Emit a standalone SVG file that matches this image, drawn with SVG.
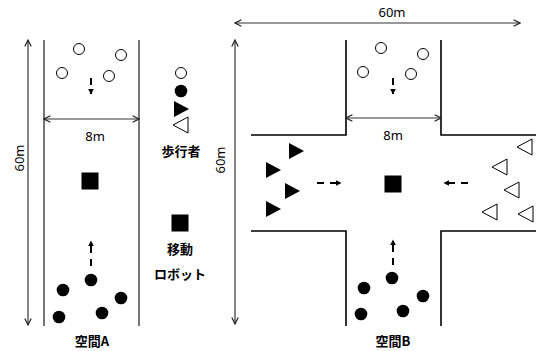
<svg xmlns="http://www.w3.org/2000/svg" width="536" height="351" viewBox="0 0 536 351">
<defs>
<marker id="open" viewBox="0 0 10 10" refX="9" refY="5" markerWidth="8" markerHeight="8" markerUnits="userSpaceOnUse" orient="auto-start-reverse">
<path d="M1,1 L9,5 L1,9" fill="none" stroke="#222" stroke-width="1.5"/>
</marker>
<marker id="solid" viewBox="0 0 10 10" refX="9" refY="5" markerWidth="6" markerHeight="6" markerUnits="userSpaceOnUse" orient="auto">
<path d="M0,0 L10,5 L0,10 z" fill="#000"/>
</marker>
<circle id="oc" r="5.5" fill="#fff" stroke="#000" stroke-width="1"/>
<circle id="fc" r="6.3" fill="#000"/>
<path id="ft" d="M-7,-8 L8,0 L-7,8 z" fill="#000"/>
<path id="ot" d="M7,-8 L-8,0 L7,8 z" fill="#fff" stroke="#000" stroke-width="1"/>
<rect id="sq" x="-8.5" y="-8.5" width="17" height="17" fill="#000"/>
</defs>
<style>
.dim{stroke:#333;stroke-width:1.2;fill:none;marker-start:url(#open);marker-end:url(#open)}
.wallA{stroke:#555;stroke-width:1.6;fill:none}
.wallB{stroke:#000;stroke-width:1.6;fill:none}
.dash{stroke:#000;stroke-width:2;fill:none;stroke-dasharray:7 6;marker-end:url(#solid)}
text{font-family:"Noto Sans CJK JP","Liberation Sans",sans-serif;fill:#000}
.lbl{font-size:13px;font-family:"Noto Sans","Liberation Sans",sans-serif}
.jp{font-size:13px;font-weight:bold}
</style>

<g id="spaceA">
<line class="wallA" x1="44" y1="40" x2="44" y2="326"/>
<line class="wallA" x1="139" y1="40" x2="139" y2="326"/>
</g>
<g id="spaceB">
<path class="wallB" d="M251,135 H346 V40"/>
<path class="wallB" d="M441,40 V135 H536"/>
<path class="wallB" d="M251,231 H346 V326"/>
<path class="wallB" d="M441,326 V231 H536"/>
</g>

<g id="connectors">
<line class="dim" x1="28" y1="40" x2="28" y2="325"/>
<line class="dim" x1="44" y1="119" x2="139" y2="119"/>
<line class="dim" x1="235" y1="23" x2="520" y2="23"/>
<line class="dim" x1="235" y1="40" x2="235" y2="324"/>
<line class="dim" x1="346" y1="118" x2="441" y2="118"/>
<path class="dash" d="M91,78 V94"/>
<path class="dash" d="M91,266 V241"/>
<path class="dash" d="M393,78 V94"/>
<path class="dash" d="M393,265 V240"/>
<path class="dash" d="M317,183 H341"/>
<path class="dash" d="M468,183 H444"/>
</g>

<g id="labels">
<text class="lbl" x="95" y="141" text-anchor="middle">8m</text>
<text class="lbl" x="393" y="140" text-anchor="middle">8m</text>
<text class="lbl" x="392" y="17" text-anchor="middle">60m</text>
<text class="lbl" transform="translate(24,158) rotate(-90)" text-anchor="middle">60m</text>
<text class="lbl" transform="translate(225,160) rotate(-90)" text-anchor="middle">60m</text>
<text class="jp" x="92" y="346" text-anchor="middle">空間A</text>
<text class="jp" x="393" y="346" text-anchor="middle">空間B</text>
</g>

<g id="pedestriansA">
<use href="#oc" x="79" y="49"/>
<use href="#oc" x="121" y="55"/>
<use href="#oc" x="62" y="73"/>
<use href="#oc" x="109" y="76"/>
<use href="#fc" x="91" y="280"/>
<use href="#fc" x="63" y="290"/>
<use href="#fc" x="121" y="298"/>
<use href="#fc" x="59" y="317"/>
<use href="#fc" x="102" y="313"/>
</g>
<g id="robotA"><use href="#sq" x="90" y="181"/></g>

<g id="legend">
<use href="#oc" x="181" y="73"/>
<use href="#fc" x="181" y="91"/>
<use href="#ft" x="181" y="109"/>
<use href="#ot" x="181" y="125"/>
<text class="jp" x="181" y="156" text-anchor="middle">歩行者</text>
<use href="#sq" x="180" y="223"/>
<text class="jp" x="180" y="254" text-anchor="middle">移動</text>
<text class="jp" x="180" y="279" text-anchor="middle">ロボット</text>
</g>

<g id="pedestriansB">
<use href="#oc" x="381" y="48"/>
<use href="#oc" x="423" y="54"/>
<use href="#oc" x="363" y="72"/>
<use href="#oc" x="411" y="74"/>
<use href="#fc" x="392" y="278"/>
<use href="#fc" x="364" y="288"/>
<use href="#fc" x="423" y="296"/>
<use href="#fc" x="361" y="314"/>
<use href="#fc" x="403" y="311"/>
<use href="#ft" x="296" y="151"/>
<use href="#ft" x="273" y="170"/>
<use href="#ft" x="292" y="191"/>
<use href="#ft" x="273" y="209"/>
<use href="#ot" x="525" y="147"/>
<use href="#ot" x="500" y="167"/>
<use href="#ot" x="512" y="190"/>
<use href="#ot" x="490" y="212"/>
<use href="#ot" x="526" y="214"/>
</g>
<g id="robotB"><use href="#sq" x="393" y="184"/></g>
</svg>
